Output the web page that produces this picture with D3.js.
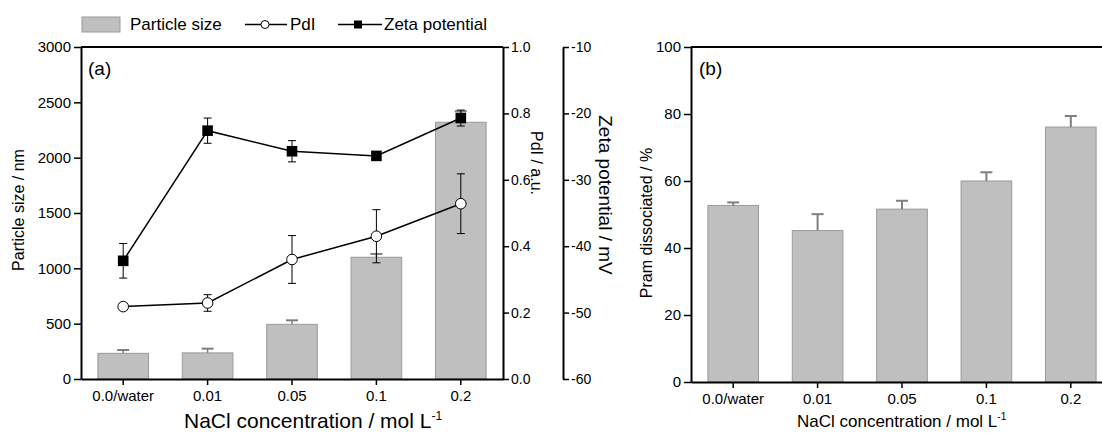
<!DOCTYPE html>
<html><head><meta charset="utf-8">
<script src="https://cdn.jsdelivr.net/npm/d3@7"></script>
<style>
body{margin:0;background:#fff;}
svg{display:block;font-family:"Liberation Sans",Arial,sans-serif;}
</style></head><body>
<svg id="chart" width="1102" height="435"></svg>
<script>
const categories = ["0.0/water","0.01","0.05","0.1","0.2"];
const particleSize = [232, 236, 494, 1100, 2320];
const particleSizeErr = [30, 38, 36, 30, 100];
const pdi = [0.218, 0.229, 0.360, 0.430, 0.528];
const pdiErr = [0.01, 0.025, 0.072, 0.08, 0.09];
const zeta = [-42.2, -22.6, -25.7, -26.4, -20.7];
const zetaErr = [2.6, 1.9, 1.6, 0.5, 1.2];
const pramDissociated = [52.7, 45.2, 51.6, 60.0, 76.1];
const pramErr = [0.9, 4.9, 2.5, 2.6, 3.3];
const sizeTicks = [0,500,1000,1500,2000,2500,3000];
const pdiTicks = [0,0.2,0.4,0.6,0.8,1.0];
const zetaTicks = [-60,-50,-40,-30,-20,-10];
const pramTicks = [0,20,40,60,80,100];

const svg = d3.select("#chart");
const barFill = "#bfbfbf", barStroke = "#9a9a9a", errGray = "#7f7f7f";
const plain = d => String(d);

function styleAxis(g, fs){
  g.select(".domain").attr("stroke","#000").attr("stroke-width",2);
  g.selectAll(".tick line").attr("stroke","#000").attr("stroke-width",1.5);
  g.selectAll(".tick text").attr("font-size",fs).attr("fill","#000").attr("font-family","Liberation Sans, Arial, sans-serif");
}

// ---------- Panel (a) ----------
const A = {l:81, r:503, t:47, b:379};
const xa = d3.scaleBand().domain(categories).range([A.l, A.r]).paddingInner(0.4).paddingOuter(0.2);
const ySize = d3.scaleLinear().domain([0,3000]).range([A.b, A.t]);
const yPdi = d3.scaleLinear().domain([0,1]).range([A.b, A.t]);
const yZeta = d3.scaleLinear().domain([-60,-10]).range([A.b, A.t]);
const ga = svg.append("g");

ga.selectAll("rect.bar").data(categories).join("rect")
  .attr("x", d=>xa(d)).attr("width", xa.bandwidth())
  .attr("y", (d,i)=>ySize(particleSize[i])).attr("height",(d,i)=>A.b-ySize(particleSize[i]))
  .attr("fill", barFill).attr("stroke", barStroke).attr("stroke-width",1);
categories.forEach((c,i)=>{
  const cx = xa(c)+xa.bandwidth()/2;
  ga.append("line").attr("x1",cx).attr("x2",cx).attr("y1",ySize(particleSize[i])).attr("y2",ySize(particleSize[i]+particleSizeErr[i])).attr("stroke",errGray).attr("stroke-width",1.5);
  ga.append("line").attr("x1",cx-6).attr("x2",cx+6).attr("y1",ySize(particleSize[i]+particleSizeErr[i])).attr("y2",ySize(particleSize[i]+particleSizeErr[i])).attr("stroke",errGray).attr("stroke-width",2);
});

function cxA(i){ return xa(categories[i])+xa.bandwidth()/2; }
const lineP = d3.line().x((d,i)=>cxA(i)).y(d=>yPdi(d));
const lineZ = d3.line().x((d,i)=>cxA(i)).y(d=>yZeta(d));
ga.append("path").attr("d", lineP(pdi)).attr("fill","none").attr("stroke","#000").attr("stroke-width",1.5);
ga.append("path").attr("d", lineZ(zeta)).attr("fill","none").attr("stroke","#000").attr("stroke-width",1.5);
function errBar(g, x, yTop, yBot){
  g.append("line").attr("x1",x).attr("x2",x).attr("y1",yTop).attr("y2",yBot).attr("stroke","#000").attr("stroke-width",1);
  [yTop,yBot].forEach(y=>g.append("line").attr("x1",x-4).attr("x2",x+4).attr("y1",y).attr("y2",y).attr("stroke","#000").attr("stroke-width",1));
}
pdi.forEach((v,i)=>errBar(ga, cxA(i), yPdi(v+pdiErr[i]), yPdi(v-pdiErr[i])));
zeta.forEach((v,i)=>errBar(ga, cxA(i), yZeta(v+zetaErr[i]), yZeta(v-zetaErr[i])));
ga.selectAll("circle.pdi").data(pdi).join("circle")
  .attr("cx",(d,i)=>cxA(i)).attr("cy",d=>yPdi(d)).attr("r",5.3)
  .attr("fill","#fff").attr("stroke","#000").attr("stroke-width",1);
ga.selectAll("rect.zeta").data(zeta).join("rect")
  .attr("x",(d,i)=>cxA(i)-5.3).attr("y",d=>yZeta(d)-5.3).attr("width",10.6).attr("height",10.6)
  .attr("fill","#000");

ga.append("line").attr("x1",A.l).attr("x2",A.r).attr("y1",A.t).attr("y2",A.t).attr("stroke","#000").attr("stroke-width",2);
const axL = ga.append("g").attr("transform",`translate(${A.l},0)`)
  .call(d3.axisLeft(ySize).tickValues(sizeTicks).tickFormat(plain).tickSize(7).tickSizeOuter(0).tickPadding(3));
styleAxis(axL,15);
const axR = ga.append("g").attr("transform",`translate(${A.r},0)`)
  .call(d3.axisRight(yPdi).tickValues(pdiTicks).tickFormat(d3.format(".1f")).tickSize(6).tickSizeOuter(0).tickPadding(2));
styleAxis(axR,14);
const axZ = ga.append("g").attr("transform",`translate(563,0)`)
  .call(d3.axisRight(yZeta).tickValues(zetaTicks).tickFormat(plain).tickSize(6).tickSizeOuter(0).tickPadding(2));
styleAxis(axZ,14);
const axB = ga.append("g").attr("transform",`translate(0,${A.b})`)
  .call(d3.axisBottom(xa).tickSize(6).tickSizeOuter(0).tickPadding(5));
styleAxis(axB,15);

ga.append("text").attr("x",88).attr("y",75).attr("font-size",19).text("(a)");
ga.append("text").attr("transform","translate(24,210) rotate(-90)").attr("text-anchor","middle").attr("font-size",16).text("Particle size / nm");
ga.append("text").attr("transform","translate(531,163) rotate(90)").attr("text-anchor","middle").attr("font-size",16).text("PdI / a.u.");
ga.append("text").attr("transform","translate(599,195) rotate(90)").attr("text-anchor","middle").attr("font-size",19).text("Zeta potential / mV");
const tA = ga.append("text").attr("x",184).attr("y",428).attr("text-anchor","start").attr("font-size",21);
tA.append("tspan").text("NaCl concentration / mol L");
tA.append("tspan").attr("dy",-8).attr("font-size",12).text("-1");

// legend
const lg = svg.append("g");
lg.append("rect").attr("x",82).attr("y",17).attr("width",38).attr("height",15).attr("fill",barFill).attr("stroke",barStroke);
lg.append("text").attr("x",130).attr("y",30).attr("font-size",17).text("Particle size");
lg.append("line").attr("x1",245).attr("x2",287).attr("y1",24.5).attr("y2",24.5).attr("stroke","#000").attr("stroke-width",1.5);
lg.append("circle").attr("cx",265).attr("cy",24.5).attr("r",4).attr("fill","#fff").attr("stroke","#000");
lg.append("text").attr("x",290).attr("y",30).attr("font-size",17).text("PdI");
lg.append("line").attr("x1",338).attr("x2",382).attr("y1",24.5).attr("y2",24.5).attr("stroke","#000").attr("stroke-width",1.5);
lg.append("rect").attr("x",354).attr("y",20.5).attr("width",8).attr("height",8).attr("fill","#000");
lg.append("text").attr("x",384).attr("y",30).attr("font-size",17).text("Zeta potential");

// ---------- Panel (b) ----------
const B = {l:691, r:1113, t:47, b:382};
const xb = d3.scaleBand().domain(categories).range([B.l, B.r]).paddingInner(0.4).paddingOuter(0.2);
const yPram = d3.scaleLinear().domain([0,100]).range([B.b, B.t]);
const gb = svg.append("g");
gb.selectAll("rect.bar").data(categories).join("rect")
  .attr("x", d=>xb(d)).attr("width", xb.bandwidth())
  .attr("y", (d,i)=>yPram(pramDissociated[i])).attr("height",(d,i)=>B.b-yPram(pramDissociated[i]))
  .attr("fill", barFill).attr("stroke", barStroke).attr("stroke-width",1);
categories.forEach((c,i)=>{
  const cx = xb(c)+xb.bandwidth()/2;
  const yt = yPram(pramDissociated[i]+pramErr[i]);
  gb.append("line").attr("x1",cx).attr("x2",cx).attr("y1",yPram(pramDissociated[i])).attr("y2",yt).attr("stroke",errGray).attr("stroke-width",2);
  gb.append("line").attr("x1",cx-6).attr("x2",cx+6).attr("y1",yt).attr("y2",yt).attr("stroke",errGray).attr("stroke-width",2);
});
gb.append("line").attr("x1",B.l).attr("x2",B.r).attr("y1",B.t).attr("y2",B.t).attr("stroke","#000").attr("stroke-width",2);
const bxL = gb.append("g").attr("transform",`translate(${B.l},0)`)
  .call(d3.axisLeft(yPram).tickValues(pramTicks).tickFormat(plain).tickSize(7).tickSizeOuter(0).tickPadding(3));
styleAxis(bxL,15);
const bxB = gb.append("g").attr("transform",`translate(0,${B.b})`)
  .call(d3.axisBottom(xb).tickSize(6).tickSizeOuter(0).tickPadding(5));
styleAxis(bxB,15);
gb.append("text").attr("x",699).attr("y",75).attr("font-size",19).text("(b)");
gb.append("text").attr("transform","translate(652,223) rotate(-90)").attr("text-anchor","middle").attr("font-size",16).text("Pram dissociated / %");
const tB = gb.append("text").attr("x",797).attr("y",427).attr("text-anchor","start").attr("font-size",17);
tB.append("tspan").text("NaCl concentration / mol L");
tB.append("tspan").attr("dy",-7).attr("font-size",10).text("-1");
</script>
</body></html>
